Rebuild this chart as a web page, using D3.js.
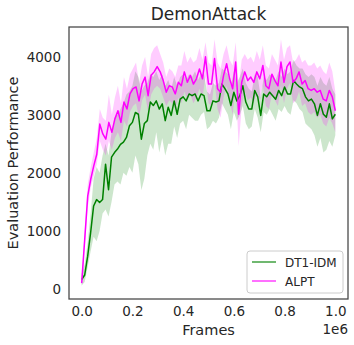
<!DOCTYPE html>
<html>
<head>
<meta charset="utf-8">
<script src="https://cdn.jsdelivr.net/npm/d3@7"></script>
<style>
  html, body { margin: 0; padding: 0; background: #fff; }
  text { font-family: "DejaVu Sans", sans-serif; fill: #262626; }
</style>
</head>
<body>
<svg id="chart" width="354" height="345"></svg>
<script>
// DT1-IDM (green) mean and band
const dtMean = [160, 240, 560, 970, 1430, 1540, 1490, 1540, 2150, 1710, 2270, 2350, 2410, 2490, 2530, 2610, 2810, 2870, 3040, 3010,
    2580, 2850, 2900, 3220, 3160, 3240, 3100, 3190, 2900, 3130, 2990, 3240, 3010, 3270, 3310, 3240, 3360, 3330, 3360, 3240,
    3360, 3330, 3070, 3070, 3240, 3220, 3240, 3530, 3450, 3360, 3160, 3390, 3240, 3330, 3500, 3220, 3100, 3100, 3420, 3310,
    2990, 3360, 3310, 3390, 3330, 3270, 3420, 3330, 3480, 3360, 3360, 3590, 3530, 3480, 3450, 3310, 3240, 3270, 3190, 2990,
    3190, 3010, 2960, 3190, 2930, 3010];
const dtLow = [60, 120, 380, 650, 900, 820, 1000, 1300, 1370, 1250, 1500, 1800, 1850, 1800, 2000, 1950, 2100, 2000, 2300, 2150,
    1700, 1900, 2300, 2500, 2400, 2700, 2350, 2600, 2300, 2500, 2500, 2800, 2600, 2850, 2900, 2750, 3000, 2950, 2900, 2900,
    3000, 3050, 2750, 2800, 2900, 2850, 2950, 3200, 3100, 3000, 2750, 3050, 2900, 3000, 3150, 2850, 2750, 2800, 3100, 2950,
    2700, 3050, 3000, 3100, 3000, 2900, 3100, 3050, 3150, 3050, 3000, 3250, 3200, 3100, 3050, 2850, 2800, 2750, 2650, 2450,
    2600, 2350, 2400, 2550, 2450, 2650];
const dtHigh = [260, 420, 800, 1300, 1900, 2100, 2000, 2300, 2500, 2300, 2700, 2950, 3000, 3100, 3200, 3350, 3400, 3500, 3750, 3650,
    3400, 3500, 3550, 3700, 3650, 3750, 3600, 3700, 3500, 3600, 3450, 3650, 3500, 3650, 3700, 3600, 3700, 3650, 3750, 3600,
    3700, 3700, 3400, 3350, 3550, 3500, 3550, 3800, 3750, 3700, 3500, 3750, 3550, 3650, 3800, 3550, 3450, 3400, 3700, 3650,
    3300, 3650, 3600, 3700, 3650, 3600, 3750, 3650, 3800, 3700, 3750, 3950, 3850, 3800, 3800, 3700, 3650, 3700, 3650, 3500,
    3650, 3550, 3500, 3650, 3450, 3350];

// ALPT (magenta) mean and band
const alptMean = [100, 850, 1600, 1890, 2120, 2320, 2840, 2670, 2580, 2870, 2700, 2930, 3070, 2870, 3220, 3100, 3360, 3450, 3480, 3240,
    3530, 3650, 3330, 3680, 3740, 3830, 3740, 3590, 3390, 3500, 3480, 3360, 3560, 3500, 3740, 3560, 3680, 3530, 3620, 3790,
    3620, 4000, 3530, 3530, 3970, 3450, 3390, 3680, 3880, 3620, 3450, 3910, 3010, 3560, 3740, 3590, 3650, 3560, 3740, 3620,
    3850, 3500, 3450, 3700, 3590, 3500, 3910, 3560, 3830, 3910, 3560, 3620, 3740, 3530, 3590, 3450, 3420, 3450, 3390, 3420,
    3270, 3240, 3420, 3310, 3070];
const alptLow = [40, 700, 1400, 1750, 1950, 2150, 2550, 2400, 2300, 2550, 2400, 2600, 2700, 2550, 2900, 2800, 3050, 3150, 3200, 2950,
    3250, 3350, 3050, 3350, 3450, 3500, 3450, 3300, 3150, 3250, 3200, 3100, 3300, 3200, 3400, 3250, 3350, 3200, 3300, 3450,
    3300, 3650, 3200, 3150, 3600, 3100, 2950, 3300, 3500, 3250, 3000, 3500, 2460, 3150, 3400, 3250, 3300, 3200, 3400, 3250,
    3500, 3150, 3100, 3350, 3250, 3150, 3500, 3200, 3450, 3550, 3200, 3250, 3400, 3150, 3200, 3050, 3000, 3050, 2950, 3000,
    2850, 2800, 2950, 2850, 2700];
const alptHigh = [200, 1000, 1800, 2100, 2350, 2600, 3100, 2950, 2900, 3350, 3000, 3300, 3500, 3200, 3650, 3450, 3700, 3800, 3900, 3550,
    3850, 4000, 3650, 4050, 4150, 4200, 4050, 3900, 3650, 3800, 3750, 3650, 3850, 3850, 4100, 3900, 4000, 3900, 3950, 4150,
    3950, 4250, 3900, 3850, 4300, 3900, 3800, 4050, 4200, 3950, 3850, 4250, 3500, 3950, 4050, 3950, 4000, 3900, 4100, 3950,
    4200, 3850, 3800, 4050, 3950, 3850, 4300, 3950, 4150, 4200, 3900, 3950, 4050, 3900, 3950, 3850, 3850, 3900, 3800, 3850,
    3750, 3700, 3900, 3750, 3400];

const frameSpan = 1e6;
const xTicks = [0, 0.2e6, 0.4e6, 0.6e6, 0.8e6, 1.0e6];
const yTicks = [0, 1000, 2000, 3000, 4000];

const series = [
    { name: 'DT1-IDM', color: '#008000', mean: dtMean, low: dtLow, high: dtHigh },
    { name: 'ALPT', color: '#ff00ff', mean: alptMean, low: alptLow, high: alptHigh }
];

const width = 354, height = 345;
const margin = { left: 69, right: 6, top: 27, bottom: 46 };
const plotW = width - margin.left - margin.right;
const plotH = height - margin.top - margin.bottom;

const svg = d3.select('#chart');

// matplotlib-like 5% padding
const pad = (lo, hi) => { const d = (hi - lo) * 0.05; return [lo - d, hi + d]; };
const allLow = d3.min(series, s => d3.min(s.low));
const allHigh = d3.max(series, s => d3.max(s.high));

const x = d3.scaleLinear().domain(pad(0, frameSpan)).range([margin.left, margin.left + plotW]);
const y = d3.scaleLinear().domain(pad(allLow, allHigh)).range([margin.top + plotH, margin.top]);

const frameOf = (s, i) => i / (s.mean.length - 1) * frameSpan;

const g = svg.append('g');

series.forEach(s => {
    const idx = d3.range(s.mean.length);
    const area = d3.area()
        .x(i => x(frameOf(s, i)))
        .y0(i => y(s.low[i]))
        .y1(i => y(s.high[i]));
    g.append('path')
        .datum(idx)
        .attr('d', area)
        .attr('fill', s.color)
        .attr('fill-opacity', 0.2)
        .attr('stroke', 'none');
});

series.forEach(s => {
    const idx = d3.range(s.mean.length);
    const line = d3.line()
        .x(i => x(frameOf(s, i)))
        .y(i => y(s.mean[i]));
    g.append('path')
        .datum(idx)
        .attr('d', line)
        .attr('fill', 'none')
        .attr('stroke', s.color)
        .attr('stroke-width', 1.5)
        .attr('stroke-linejoin', 'round');
});

// axes (no tick marks, just labels)
const xAxis = svg.append('g')
    .attr('transform', `translate(0,${margin.top + plotH})`)
    .call(d3.axisBottom(x).tickValues(xTicks).tickSize(0).tickPadding(7)
        .tickFormat(d => (d / 1e6).toFixed(1)));
const yAxis = svg.append('g')
    .attr('transform', `translate(${margin.left},0)`)
    .call(d3.axisLeft(y).tickValues(yTicks).tickSize(0).tickPadding(8)
        .tickFormat(d3.format('d')));
[xAxis, yAxis].forEach(a => {
    a.select('.domain').remove();
    a.selectAll('text').attr('font-size', 13.5).attr('fill', '#262626')
        .attr('font-family', '"DejaVu Sans", sans-serif');
});

// frame
svg.append('rect')
    .attr('x', margin.left).attr('y', margin.top)
    .attr('width', plotW).attr('height', plotH)
    .attr('fill', 'none').attr('stroke', '#444').attr('stroke-width', 1.25);

// title & labels
svg.append('text')
    .attr('x', margin.left + plotW / 2).attr('y', 20)
    .attr('text-anchor', 'middle').attr('font-size', 17)
    .text('DemonAttack');
svg.append('text')
    .attr('x', margin.left + plotW / 2).attr('y', 335)
    .attr('text-anchor', 'middle').attr('font-size', 14.5)
    .text('Frames');
svg.append('text')
    .attr('x', margin.left + plotW).attr('y', 334)
    .attr('text-anchor', 'end').attr('font-size', 13.5)
    .text('1e6');
svg.append('text')
    .attr('transform', `translate(18,${margin.top + plotH / 2}) rotate(-90)`)
    .attr('text-anchor', 'middle').attr('font-size', 14.5)
    .text('Evaluation Performance');

// legend
const lg = svg.append('g').attr('transform', 'translate(247,251)');
lg.append('rect')
    .attr('width', 96).attr('height', 42).attr('rx', 3)
    .attr('fill', '#fff').attr('fill-opacity', 0.8)
    .attr('stroke', '#ccc').attr('stroke-width', 1);
series.forEach((s, i) => {
    const yy = 11 + i * 19;
    lg.append('line')
        .attr('x1', 5).attr('x2', 29).attr('y1', yy).attr('y2', yy)
        .attr('stroke', s.color).attr('stroke-width', 1.5).attr('stroke-opacity', 0.75);
    lg.append('text')
        .attr('x', 38).attr('y', yy + 4.5)
        .attr('font-size', 12)
        .text(s.name);
});
</script>
</body>
</html>
